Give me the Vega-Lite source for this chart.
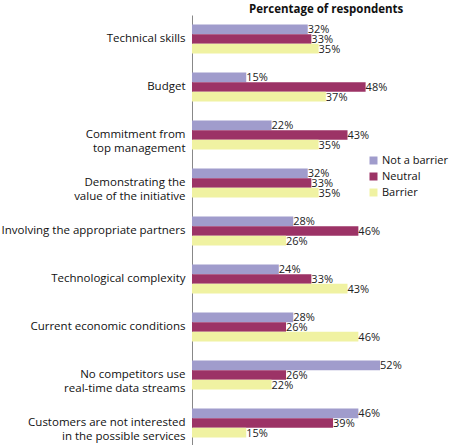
{
  "$schema": "https://vega.github.io/schema/vega-lite/v6.json",
  "width": 217,
  "height": 432,
  "autosize": {"type": "none"},
  "padding": {"left": 192, "top": 15, "right": 41, "bottom": 0},
  "background": "white",
  "config": {
    "view": {"stroke": null},
    "font": "Open Sans"
  },
  "title": {
    "text": "Percentage of respondents",
    "anchor": "start",
    "frame": "group",
    "dx": 57,
    "offset": 0,
    "fontSize": 11.5,
    "fontWeight": "bold",
    "font": "Open Sans",
    "color": "#111"
  },
  "data": {
    "values": [
      {"cat": "Technical skills", "series": "Not a barrier", "value": 0.32},
      {"cat": "Technical skills", "series": "Neutral", "value": 0.33},
      {"cat": "Technical skills", "series": "Barrier", "value": 0.35},
      {"cat": "Budget", "series": "Not a barrier", "value": 0.15},
      {"cat": "Budget", "series": "Neutral", "value": 0.48},
      {"cat": "Budget", "series": "Barrier", "value": 0.37},
      {"cat": "Commitment from|top management", "series": "Not a barrier", "value": 0.22},
      {"cat": "Commitment from|top management", "series": "Neutral", "value": 0.43},
      {"cat": "Commitment from|top management", "series": "Barrier", "value": 0.35},
      {"cat": "Demonstrating the|value of the initiative", "series": "Not a barrier", "value": 0.32},
      {"cat": "Demonstrating the|value of the initiative", "series": "Neutral", "value": 0.33},
      {"cat": "Demonstrating the|value of the initiative", "series": "Barrier", "value": 0.35},
      {"cat": "Involving the appropriate partners", "series": "Not a barrier", "value": 0.28},
      {"cat": "Involving the appropriate partners", "series": "Neutral", "value": 0.46},
      {"cat": "Involving the appropriate partners", "series": "Barrier", "value": 0.26},
      {"cat": "Technological complexity", "series": "Not a barrier", "value": 0.24},
      {"cat": "Technological complexity", "series": "Neutral", "value": 0.33},
      {"cat": "Technological complexity", "series": "Barrier", "value": 0.43},
      {"cat": "Current economic conditions", "series": "Not a barrier", "value": 0.28},
      {"cat": "Current economic conditions", "series": "Neutral", "value": 0.26},
      {"cat": "Current economic conditions", "series": "Barrier", "value": 0.46},
      {"cat": "No competitors use|real-time data streams", "series": "Not a barrier", "value": 0.52},
      {"cat": "No competitors use|real-time data streams", "series": "Neutral", "value": 0.26},
      {"cat": "No competitors use|real-time data streams", "series": "Barrier", "value": 0.22},
      {"cat": "Customers are not interested|in the possible services", "series": "Not a barrier", "value": 0.46},
      {"cat": "Customers are not interested|in the possible services", "series": "Neutral", "value": 0.39},
      {"cat": "Customers are not interested|in the possible services", "series": "Barrier", "value": 0.15}
    ]
  },
  "encoding": {
    "y": {
      "field": "cat",
      "type": "nominal",
      "sort": null,
      "title": null,
      "scale": {"paddingInner": 0.4, "paddingOuter": 0.2},
      "axis": {
        "labelExpr": "split(datum.label, '|')",
        "ticks": false,
        "domainColor": "#888888",
        "domainWidth": 1,
        "labelFontSize": 11.5,
        "labelColor": "#111",
        "labelPadding": 7,
        "labelLineHeight": 14,
        "labelLimit": 250
      }
    },
    "yOffset": {
      "field": "series",
      "type": "nominal",
      "sort": ["Not a barrier", "Neutral", "Barrier"]
    },
    "x": {
      "field": "value",
      "type": "quantitative",
      "scale": {"domain": [0, 0.6], "nice": false},
      "axis": null
    }
  },
  "layer": [
    {
      "mark": {"type": "bar"},
      "encoding": {
        "color": {
          "field": "series",
          "type": "nominal",
          "sort": ["Not a barrier", "Neutral", "Barrier"],
          "scale": {
            "domain": ["Not a barrier", "Neutral", "Barrier"],
            "range": ["#a09ccc", "#9c3366", "#f0f2a2"]
          },
          "legend": {
            "title": null,
            "orient": "none",
            "legendX": 176,
            "legendY": 140,
            "symbolType": "square",
            "symbolSize": 64,
            "symbolStrokeWidth": 0,
            "labelOffset": 3,
            "labelFontSize": 11,
            "labelColor": "#111",
            "rowPadding": 4
          }
        }
      }
    },
    {
      "mark": {"type": "text", "align": "left", "baseline": "middle", "dx": 0, "dy": 1, "fontSize": 11, "color": "#222"},
      "encoding": {
        "text": {"field": "value", "type": "quantitative", "format": ".0%"}
      }
    }
  ]
}
